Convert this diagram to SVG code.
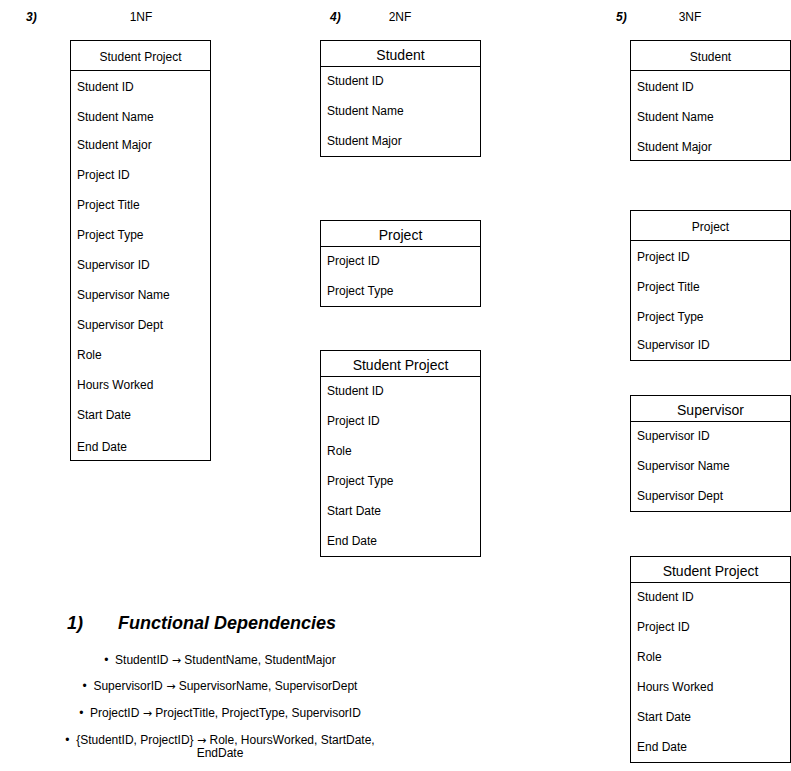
<svg xmlns="http://www.w3.org/2000/svg" width="791" height="771" viewBox="0 0 791 771">
<style>
text{font-family:"Liberation Sans",Arial,Helvetica,sans-serif;fill:#000;}
.box{fill:#fff;stroke:#000;stroke-width:1;}
.sep{stroke:#000;stroke-width:1;}
.t12{font-size:12px;text-anchor:middle;}
.t14{font-size:14px;text-anchor:middle;}
.row{font-size:12px;}
.lbl{font-size:12px;font-weight:bold;font-style:italic;}
.hd{font-size:12px;text-anchor:middle;}
.big{font-size:18px;font-weight:bold;font-style:italic;}
.fd{font-size:12px;text-anchor:middle;}
.ar{font-family:"DejaVu Sans",sans-serif;font-size:11px;}
</style>
<rect width="791" height="771" fill="#fff"/>
<text class="lbl" x="26" y="21">3)</text>
<text class="hd" x="141" y="21">1NF</text>
<text class="lbl" x="330" y="21">4)</text>
<text class="hd" x="400" y="21">2NF</text>
<text class="lbl" x="616" y="21">5)</text>
<text class="hd" x="690" y="21">3NF</text>

<g id="nf1-student-project">
<rect class="box" x="70.5" y="40.5" width="140" height="420"/>
<line class="sep" x1="70.5" y1="70.5" x2="210.5" y2="70.5"/>
<text class="t12" x="140.5" y="60.5">Student Project</text>
<text class="row" x="77" y="90.5">Student ID</text>
<text class="row" x="77" y="120.5">Student Name</text>
<text class="row" x="77" y="148.5">Student Major</text>
<text class="row" x="77" y="178.5">Project ID</text>
<text class="row" x="77" y="208.5">Project Title</text>
<text class="row" x="77" y="238.5">Project Type</text>
<text class="row" x="77" y="268.5">Supervisor ID</text>
<text class="row" x="77" y="298.5">Supervisor Name</text>
<text class="row" x="77" y="328.5">Supervisor Dept</text>
<text class="row" x="77" y="358.5">Role</text>
<text class="row" x="77" y="388.5">Hours Worked</text>
<text class="row" x="77" y="418.5">Start Date</text>
<text class="row" x="77" y="450.5">End Date</text>
</g>

<g id="nf2-student">
<rect class="box" x="320.5" y="40.5" width="160" height="116"/>
<line class="sep" x1="320.5" y1="66.5" x2="480.5" y2="66.5"/>
<text class="t14" x="400.5" y="60">Student</text>
<text class="row" x="327" y="84.5">Student ID</text>
<text class="row" x="327" y="114.5">Student Name</text>
<text class="row" x="327" y="144.5">Student Major</text>
</g>

<g id="nf2-project">
<rect class="box" x="320.5" y="220.5" width="160" height="86"/>
<line class="sep" x1="320.5" y1="246.5" x2="480.5" y2="246.5"/>
<text class="t14" x="400.5" y="240">Project</text>
<text class="row" x="327" y="264.5">Project ID</text>
<text class="row" x="327" y="294.5">Project Type</text>
</g>

<g id="nf2-student-project">
<rect class="box" x="320.5" y="350.5" width="160" height="206"/>
<line class="sep" x1="320.5" y1="376.5" x2="480.5" y2="376.5"/>
<text class="t14" x="400.5" y="370">Student Project</text>
<text class="row" x="327" y="394.5">Student ID</text>
<text class="row" x="327" y="424.5">Project ID</text>
<text class="row" x="327" y="454.5">Role</text>
<text class="row" x="327" y="484.5">Project Type</text>
<text class="row" x="327" y="514.5">Start Date</text>
<text class="row" x="327" y="544.5">End Date</text>
</g>

<g id="nf3-student">
<rect class="box" x="630.5" y="40.5" width="160" height="120"/>
<line class="sep" x1="630.5" y1="70.5" x2="790.5" y2="70.5"/>
<text class="t12" x="710.5" y="60.5">Student</text>
<text class="row" x="637" y="90.5">Student ID</text>
<text class="row" x="637" y="120.5">Student Name</text>
<text class="row" x="637" y="150.5">Student Major</text>
</g>

<g id="nf3-project">
<rect class="box" x="630.5" y="210.5" width="160" height="150"/>
<line class="sep" x1="630.5" y1="240.5" x2="790.5" y2="240.5"/>
<text class="t12" x="710.5" y="230.5">Project</text>
<text class="row" x="637" y="260.5">Project ID</text>
<text class="row" x="637" y="290.5">Project Title</text>
<text class="row" x="637" y="320.5">Project Type</text>
<text class="row" x="637" y="348.5">Supervisor ID</text>
</g>

<g id="nf3-supervisor">
<rect class="box" x="630.5" y="395.5" width="160" height="116"/>
<line class="sep" x1="630.5" y1="421.5" x2="790.5" y2="421.5"/>
<text class="t14" x="710.5" y="415">Supervisor</text>
<text class="row" x="637" y="440">Supervisor ID</text>
<text class="row" x="637" y="470">Supervisor Name</text>
<text class="row" x="637" y="500">Supervisor Dept</text>
</g>

<g id="nf3-student-project">
<rect class="box" x="630.5" y="556.5" width="160" height="206"/>
<line class="sep" x1="630.5" y1="582.5" x2="790.5" y2="582.5"/>
<text class="t14" x="710.5" y="576">Student Project</text>
<text class="row" x="637" y="601">Student ID</text>
<text class="row" x="637" y="631">Project ID</text>
<text class="row" x="637" y="661">Role</text>
<text class="row" x="637" y="691">Hours Worked</text>
<text class="row" x="637" y="721">Start Date</text>
<text class="row" x="637" y="751">End Date</text>
</g>

<g id="functional-dependencies">
<text class="big" x="67" y="629">1)</text>
<text class="big" x="118" y="629">Functional Dependencies</text>
<text class="fd" x="220" y="664" xml:space="preserve">•  StudentID <tspan class="ar">→</tspan> StudentName, StudentMajor</text>
<text class="fd" x="220" y="690" xml:space="preserve">•  SupervisorID <tspan class="ar">→</tspan> SupervisorName, SupervisorDept</text>
<text class="fd" x="220" y="717" xml:space="preserve">•  ProjectID <tspan class="ar">→</tspan> ProjectTitle, ProjectType, SupervisorID</text>
<text class="fd" x="220" y="744" xml:space="preserve">•  {StudentID, ProjectID} <tspan class="ar">→</tspan> Role, HoursWorked, StartDate,</text>
<text class="fd" x="220" y="757">EndDate</text>
</g>
<g id="connectors"></g>
</svg>
